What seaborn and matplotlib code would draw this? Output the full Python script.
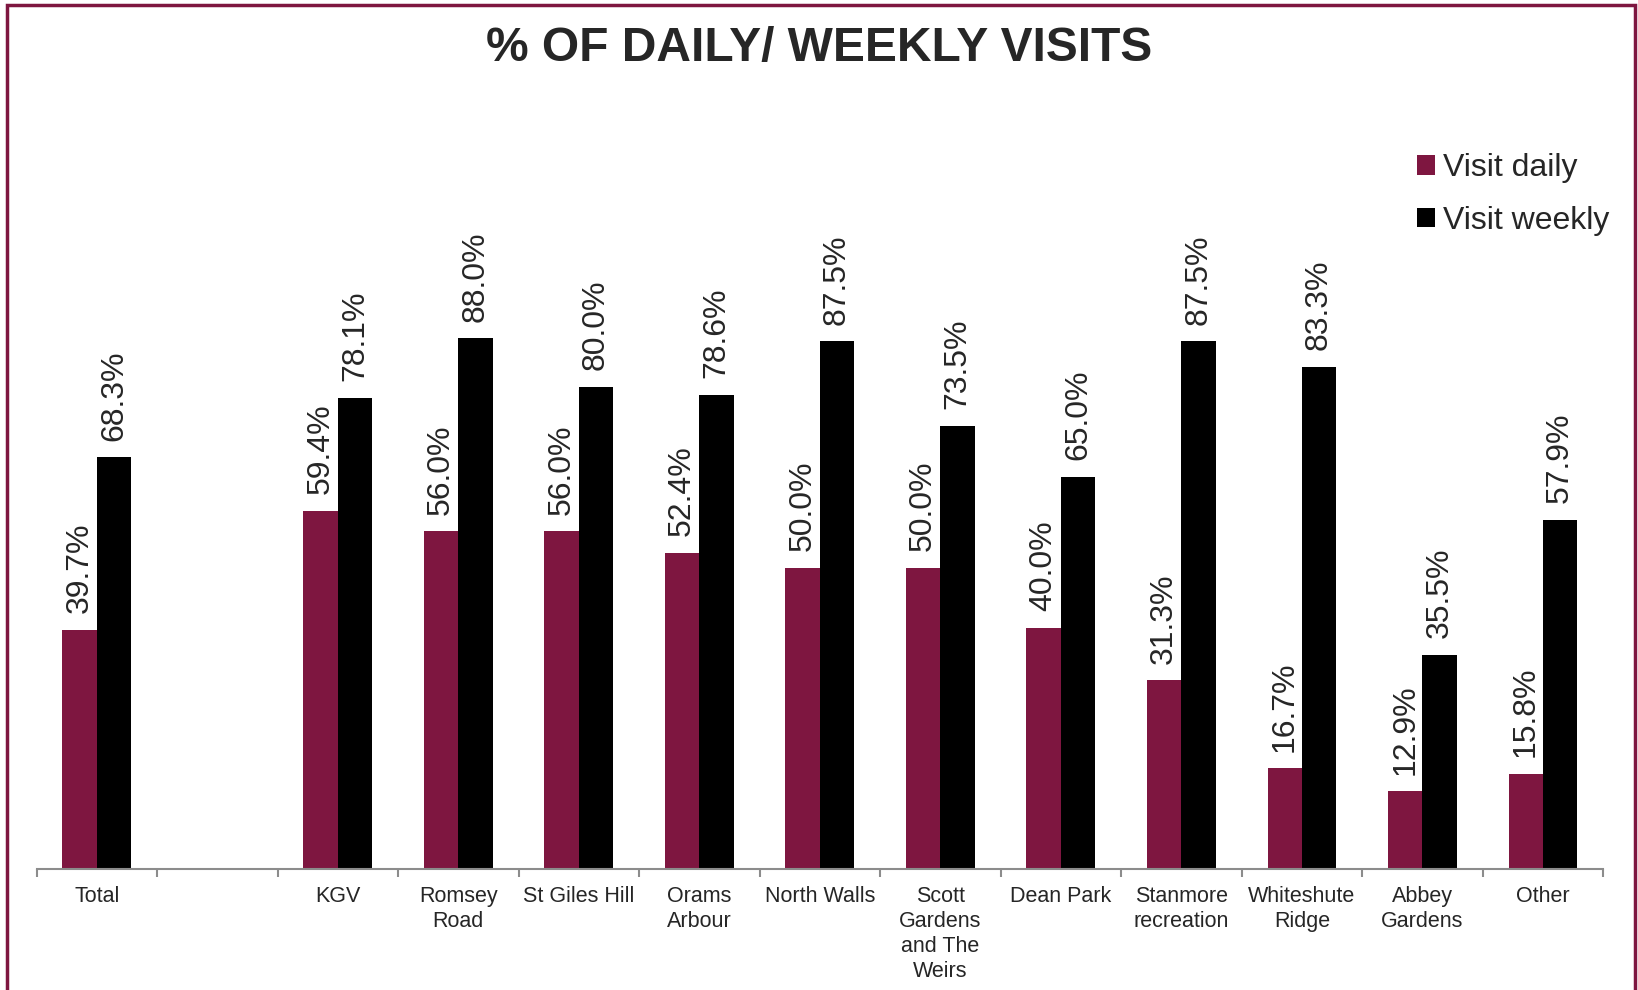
import numpy as np
import pandas as pd
import seaborn as sns
import matplotlib.pyplot as plt
from matplotlib.patches import Rectangle
from matplotlib.ticker import FixedLocator

# data
sites = ["Total", " ", "KGV", "Romsey\nRoad", "St Giles Hill", "Orams\nArbour",
         "North Walls", "Scott\nGardens\nand The\nWeirs", "Dean Park",
         "Stanmore\nrecreation", "Whiteshute\nRidge", "Abbey\nGardens", "Other"]
visit_daily = [39.7, None, 59.4, 56.0, 56.0, 52.4, 50.0, 50.0, 40.0, 31.3, 16.7, 12.9, 15.8]
visit_weekly = [68.3, None, 78.1, 88.0, 80.0, 78.6, 87.5, 73.5, 65.0, 87.5, 83.3, 35.5, 57.9]

MAROON = "#7E1640"

rows = []
for s, d, w in zip(sites, visit_daily, visit_weekly):
    if d is not None:
        rows.append({"site": s, "series": "Visit daily", "pct": d})
        rows.append({"site": s, "series": "Visit weekly", "pct": w})
df = pd.DataFrame(rows)

sns.set_style("white")
plt.rcParams["font.family"] = ["Liberation Sans", "DejaVu Sans"]

fig = plt.figure(figsize=(16.38, 9.9), dpi=100)
ax = fig.add_axes([0.0223, 0.1222, 0.9564, 0.609])

sns.barplot(data=df, x="site", y="pct", hue="series", order=sites,
            hue_order=["Visit daily", "Visit weekly"],
            palette=[MAROON, "black"], width=0.57, ax=ax, saturation=1,
            linewidth=0, errorbar=None, legend=True)

for cont in ax.containers:
    ax.bar_label(cont, labels=[f"{b.get_height():.1f}%" for b in cont],
                 rotation=90, fontsize=23, padding=12)

ax.set_ylim(0, 100)
ax.set_xlim(-0.5, len(sites) - 0.5)
ax.set_xlabel("")
ax.set_ylabel("")
ax.set_yticks([])
ax.tick_params(axis="x", which="major", length=0, labelsize=15.5, pad=12)
for lab in ax.get_xticklabels():
    lab.set_linespacing(1.25)
ax.xaxis.set_minor_locator(FixedLocator(np.arange(-0.5, len(sites), 1.0)))
ax.tick_params(axis="x", which="minor", bottom=True, length=6, width=1.5,
               color="#8c8c8c", direction="out")
for side in ["top", "right", "left"]:
    ax.spines[side].set_visible(False)
ax.spines["bottom"].set_color("#8c8c8c")
ax.spines["bottom"].set_linewidth(1.5)

leg = ax.legend(loc="upper left", bbox_to_anchor=(0.863, 1.235), frameon=False,
                fontsize=23, handlelength=0.55, handleheight=0.55,
                handletextpad=0.25, labelspacing=0.7)

fig.text(0.5, 0.951, "% OF DAILY/ WEEKLY VISITS", ha="center", va="center",
         fontsize=34.5, fontweight="bold", color="#262626")

fig.patches.append(Rectangle((7 / 1638, -0.05), 1628 / 1638, 1.05 - 5 / 990,
                             transform=fig.transFigure, fill=False,
                             edgecolor=MAROON, linewidth=2.5))

plt.savefig("out.png", dpi=100)
